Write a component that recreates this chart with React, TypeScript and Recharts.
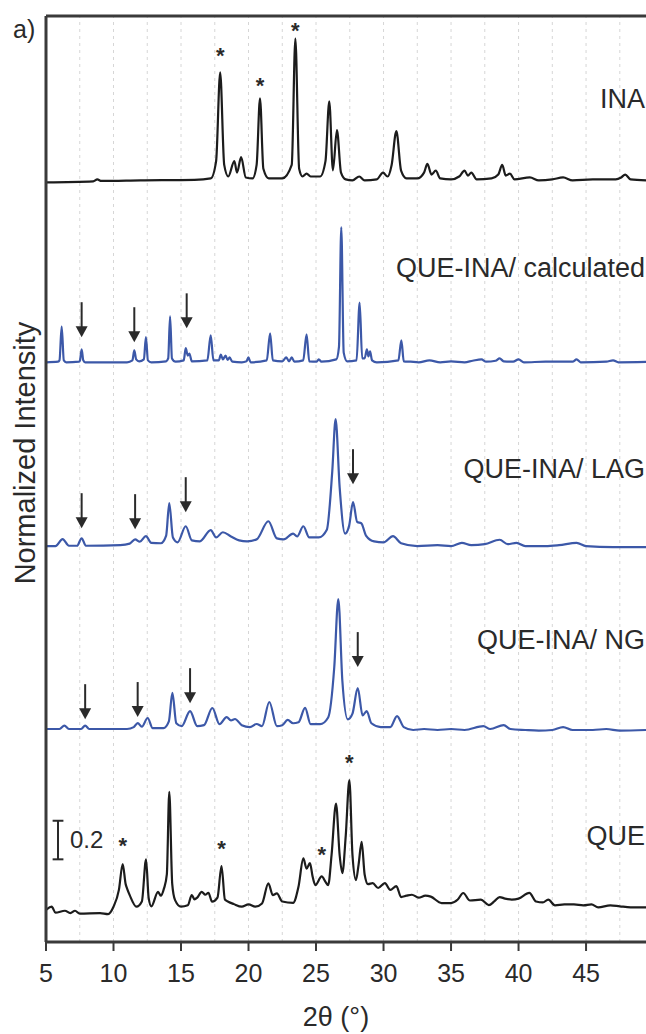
import React from "react";
import { ComposedChart, Line, Scatter, XAxis, YAxis, ReferenceLine, Label } from "recharts";

type Pt = [number, number];

// stacked PXRD patterns, 2θ in degrees, intensity relative to each trace's own baseline
const traceNames = ["INA", "QUE-INA/ calculated", "QUE-INA/ LAG", "QUE-INA/ NG", "QUE"];
const traceOffsets = [3.948, 3.005, 2.057, 1.104, 0.15];
const traceLabelY = [4.373, 3.497, 2.456, 1.57, 0.554];
const traceColors = ["#1c1c1c", "#3c58a8", "#3c58a8", "#3c58a8", "#1c1c1c"];

const ina: Pt[] = [
  [5, -0.01], [8.5, -0.005], [8.8, 0.005], [9.1, -0.003], [12, 0], [16, 0.003], [17.2, 0.01], [17.6, 0.1],
  [17.9, 0.56], [18.2, 0.08], [18.5, 0.02], [18.95, 0.1], [19.15, 0.04], [19.45, 0.12], [19.8, 0.015],
  [20.3, 0.01], [20.6, 0.08], [20.85, 0.425], [21.1, 0.06], [21.5, 0.01], [22.5, 0.01], [23.2, 0.08],
  [23.47, 0.735], [23.75, 0.06], [24.0, 0.02], [24.3, 0.035], [24.6, 0.02], [25.3, 0.02], [25.7, 0.1],
  [25.98, 0.41], [26.25, 0.052], [26.55, 0.26], [26.85, 0.04], [27.2, 0.005], [27.7, 0], [28.2, 0.02],
  [28.6, 0], [29.5, 0.005], [29.96, 0.04], [30.3, 0.02], [30.6, 0.08], [30.95, 0.255], [31.3, 0.05],
  [31.7, 0.01], [32.5, 0.01], [33.0, 0.04], [33.25, 0.085], [33.55, 0.03], [33.87, 0.05], [34.2, 0.01],
  [35.0, 0.005], [35.6, 0.02], [36.0, 0.05], [36.25, 0.025], [36.5, 0.04], [36.9, 0.005], [38.0, 0.01],
  [38.5, 0.03], [38.79, 0.08], [39.05, 0.025], [39.36, 0.035], [39.7, 0.005], [40.84, 0.015], [41.5, 0],
  [42.5, 0.005], [43.3, 0.015], [44.0, 0], [45.5, 0.005], [47.2, 0.005], [47.6, 0.015], [47.9, 0.03],
  [48.3, 0.005], [49.44, 0],
];

const calculated: Pt[] = [
  [5, 0], [5.9, 0.003], [6.0, 0.01], [6.16, 0.185], [6.32, 0.01], [6.5, 0], [7.45, 0.003], [7.52, 0.01],
  [7.64, 0.067], [7.76, 0.01], [7.9, 0], [11.0, 0], [11.4, 0.01], [11.54, 0.062], [11.68, 0.015],
  [11.9, 0.005], [12.25, 0.015], [12.4, 0.13], [12.55, 0.01], [12.8, 0], [13.9, 0.005], [14.05, 0.02],
  [14.19, 0.238], [14.33, 0.02], [14.6, 0.003], [15.2, 0.01], [15.35, 0.073], [15.5, 0.035], [15.62, 0.045],
  [15.8, 0.005], [16.95, 0.01], [17.2, 0.14], [17.4, 0.01], [17.8, 0.01], [17.95, 0.04], [18.1, 0.015],
  [18.3, 0.035], [18.45, 0.012], [18.6, 0.025], [18.8, 0.003], [19.5, 0], [19.85, 0.005], [19.99, 0.026],
  [20.15, 0], [21.35, 0.01], [21.6, 0.15], [21.8, 0.01], [22.5, 0.005], [22.8, 0.025], [23.0, 0.005],
  [23.2, 0.025], [23.4, 0.003], [24.05, 0.01], [24.3, 0.145], [24.5, 0.005], [25.05, 0.003], [25.2, 0.015],
  [25.4, 0.003], [26.5, 0.015], [26.7, 0.08], [26.87, 0.7], [27.05, 0.05], [27.3, 0.005], [28.0, 0.01],
  [28.23, 0.31], [28.42, 0.02], [28.6, 0.02], [28.77, 0.067], [28.88, 0.03], [29.0, 0.057], [29.15, 0.01],
  [29.5, 0], [31.1, 0.01], [31.32, 0.114], [31.5, 0.005], [32, 0.003], [32.6, 0], [33.4, 0.01], [34.2, 0],
  [35.0, 0.005], [36.0, 0], [36.6, 0.008], [37.25, 0.015], [37.6, 0.003], [38.3, 0.008], [38.6, 0.02],
  [38.9, 0.005], [39.6, 0.003], [40.0, 0.015], [40.4, 0], [42.0, 0.003], [44.0, 0.003], [44.3, 0.015],
  [44.6, 0], [46.5, 0.003], [47, 0.01], [47.4, 0], [49.44, 0.002],
];

const lag: Pt[] = [
  [5, -0.005], [5.7, -0.005], [6.23, 0.031], [6.7, -0.003], [7.3, -0.003], [7.64, 0.036], [7.95, -0.003],
  [10.5, 0], [11.2, 0.008], [11.6, 0.03], [11.95, 0.018], [12.4, 0.047], [12.8, 0.012], [13.5, 0.01],
  [13.9, 0.05], [14.13, 0.218], [14.4, 0.04], [14.75, 0.015], [15.35, 0.098], [15.8, 0.025], [16.4, 0.02],
  [17.2, 0.078], [17.6, 0.04], [18.1, 0.067], [18.7, 0.045], [19.3, 0.025], [19.9, 0.02], [20.6, 0.03],
  [21.47, 0.124], [22.1, 0.035], [22.6, 0.03], [23.3, 0.06], [23.6, 0.045], [24.06, 0.098], [24.5, 0.04],
  [25.2, 0.04], [25.8, 0.08], [26.2, 0.38], [26.45, 0.653], [26.75, 0.3], [27.15, 0.06], [27.45, 0.1],
  [27.74, 0.223], [28.05, 0.12], [28.35, 0.114], [28.7, 0.05], [29.3, 0.02], [30.0, 0.015], [30.7, 0.047],
  [31.3, 0.01], [32.5, -0.005], [34.0, 0], [35.0, -0.005], [35.8, 0.012], [36.5, 0], [37.5, 0.005],
  [38.6, 0.028], [39.2, 0.005], [39.85, 0.012], [40.5, -0.005], [42.0, -0.005], [43.0, 0], [44.3, 0.012],
  [45.0, -0.005], [47, -0.01], [49.44, -0.01],
];

const ng: Pt[] = [
  [5, 0], [6.0, 0], [6.36, 0.018], [6.7, 0], [7.6, 0], [7.9, 0.018], [8.2, 0], [11.0, 0], [11.5, 0.01],
  [11.79, 0.031], [12.1, 0.012], [12.53, 0.057], [12.9, 0.005], [13.7, 0.005], [14.1, 0.04], [14.36, 0.187],
  [14.65, 0.03], [15.05, 0.015], [15.67, 0.093], [16.2, 0.015], [16.7, 0.02], [17.32, 0.109], [17.85, 0.025],
  [18.38, 0.062], [18.7, 0.045], [19.0, 0.052], [19.5, 0.02], [20.1, 0.01], [20.6, 0.026], [21.0, 0.015],
  [21.54, 0.14], [22.1, 0.015], [22.5, 0.02], [22.9, 0.047], [23.3, 0.03], [23.7, 0.035], [24.19, 0.11],
  [24.6, 0.025], [25.3, 0.025], [25.9, 0.06], [26.35, 0.32], [26.65, 0.674], [26.95, 0.25], [27.35, 0.05],
  [27.7, 0.08], [28.09, 0.212], [28.45, 0.07], [28.75, 0.093], [29.1, 0.03], [29.8, 0.01], [30.5, 0.01],
  [31.0, 0.067], [31.5, 0.01], [32.2, -0.005], [33.0, 0], [34.0, -0.005], [35.0, 0], [36.0, -0.005],
  [37.4, 0.015], [37.9, 0], [38.9, 0.02], [39.4, 0], [40.5, -0.005], [41.5, -0.008], [42.5, -0.005],
  [43.3, 0.01], [44.0, -0.005], [45.5, -0.005], [46.5, 0], [47.5, -0.008], [49.44, -0.005],
];

const que: Pt[] = [
  [5.0, 0.016], [5.42, 0.033], [5.7, 0.002], [6.4, 0.012], [6.8, 0], [7.15, 0.012], [7.5, -0.003], [9.0, 0],
  [9.6, -0.005], [10.0, 0.033], [10.4, 0.12], [10.68, 0.254], [10.9, 0.15], [11.0, 0.128], [11.2, 0.093],
  [11.7, 0.033], [12.1, 0.06], [12.41, 0.278], [12.6, 0.08], [12.8, 0.035], [13.3, 0.11], [13.5, 0.09],
  [13.74, 0.128], [13.95, 0.2], [14.13, 0.628], [14.35, 0.15], [14.56, 0.067], [15.0, 0.033], [15.5, 0.04],
  [15.8, 0.093], [16.0, 0.071], [16.2, 0.08], [16.53, 0.11], [16.8, 0.095], [17.03, 0.105], [17.3, 0.059],
  [17.7, 0.08], [18.0, 0.244], [18.25, 0.07], [18.5, 0.059], [18.9, 0.047], [19.5, 0.033], [20.0, 0.045],
  [20.5, 0.033], [21.0, 0.05], [21.47, 0.154], [21.8, 0.093], [22.1, 0.102], [22.5, 0.06], [23.3, 0.053],
  [23.7, 0.136], [24.06, 0.283], [24.3, 0.23], [24.55, 0.259], [24.75, 0.188], [24.95, 0.145], [25.42, 0.19],
  [25.7, 0.162], [25.9, 0.145], [26.15, 0.3], [26.48, 0.568], [26.75, 0.3], [26.95, 0.207], [27.2, 0.4],
  [27.47, 0.689], [27.7, 0.3], [27.96, 0.171], [28.15, 0.25], [28.38, 0.369], [28.6, 0.2], [28.85, 0.15],
  [29.2, 0.155], [29.6, 0.13], [30.1, 0.155], [30.5, 0.12], [30.95, 0.14], [31.3, 0.083], [31.7, 0.09],
  [32.1, 0.095], [32.6, 0.08], [33.1, 0.09], [33.5, 0.085], [34.3, 0.052], [35.0, 0.052], [35.5, 0.07],
  [35.9, 0.104], [36.4, 0.065], [37.2, 0.07], [37.8, 0.041], [38.2, 0.06], [38.6, 0.083], [39.0, 0.075],
  [39.5, 0.07], [40.0, 0.075], [40.8, 0.105], [41.3, 0.06], [41.8, 0.055], [42.2, 0.07], [42.7, 0.04],
  [43.4, 0.045], [44.1, 0.045], [44.8, 0.04], [45.4, 0.045], [45.9, 0.03], [46.8, 0.04], [47.5, 0.035],
  [48.3, 0.03], [49.44, 0.03],
];

const traces = [ina, calculated, lag, ng, que];

// annotation marks (absolute chart units)
const stars: Pt[] = [
  [17.9, 4.617], [20.85, 4.463], [23.47, 4.746],
  [10.68, 0.523], [18.0, 0.508], [25.42, 0.479], [27.47, 0.953],
];
const arrowTips: Pt[] = [
  [7.64, 3.135], [11.54, 3.109], [15.42, 3.181],
  [7.64, 2.145], [11.6, 2.14], [15.35, 2.228], [27.74, 2.373],
  [7.9, 1.155], [11.79, 1.166], [15.67, 1.238], [28.09, 1.425],
];

const xTicks = [5, 10, 15, 20, 25, 30, 35, 40, 45];
const gridX = [7.5, 10, 12.5, 15, 17.5, 20, 22.5, 25, 27.5, 30, 32.5, 35, 37.5, 40, 42.5, 45, 47.5];
const xMin = 5;
const xMax = 49.44;
const yMax = 4.8;
const scaleBarX = 5.89;
const scaleBarFrom = 0.4285;
const scaleBarSize = 0.2;

const FONT = "'Liberation Sans', Arial, sans-serif";
const INK = "#2a2a2a";

const toRows = (pts: Pt[], offset = 0) => pts.map(([x, y]) => ({ x, y: y + offset }));

const labelRows = traceNames.map((name, i) => ({ x: xMax, y: traceLabelY[i], name }));

const StarShape = (p: any) => (
  <text x={p.cx} y={p.cy + 12} textAnchor="middle" fontSize={22} fontWeight="bold" fontFamily={FONT} fill={INK}>*</text>
);

const ArrowShape = (p: any) => (
  <g>
    <line x1={p.cx} y1={p.cy - 35} x2={p.cx} y2={p.cy - 9} stroke={INK} strokeWidth={2} />
    <path d={`M${p.cx - 6},${p.cy - 11} L${p.cx + 6},${p.cy - 11} L${p.cx},${p.cy} Z`} fill={INK} />
  </g>
);

const NameShape = (p: any) => (
  <text x={p.cx - 1} y={p.cy} dy="0.35em" textAnchor="end" fontSize={27} fontFamily={FONT} fill={INK}>
    {p.payload.name}
  </text>
);

const ScaleText = (p: any) => (
  <text x={p.cx + 12} y={p.cy} dy="0.35em" fontSize={24} fontFamily={FONT} fill={INK}>0.2</text>
);

const XTitle = (p: any) => {
  const vb = p.viewBox;
  return (
    <text x={vb.x + vb.width / 2 - 10} y={vb.y + 84} textAnchor="middle" fontSize={27} fontFamily={FONT} fill={INK}>
      2θ (°)
    </text>
  );
};

const YTitle = (p: any) => {
  const vb = p.viewBox;
  const cx = vb.x + 25;
  const cy = vb.y + vb.height / 2 - 26;
  return (
    <text x={cx} y={cy} dy="0.35em" transform={`rotate(-90 ${cx} ${cy})`} textAnchor="middle" fontSize={29} fontFamily={FONT} fill={INK}>
      Normalized Intensity
    </text>
  );
};

export default function App() {
  return (
    <div style={{ position: "absolute", left: 0, top: 0, width: 646, height: 1034, background: "#fff" }}>
      <div style={{ position: "absolute", left: 13, top: 14, fontFamily: FONT, fontSize: 25, color: INK, lineHeight: "30px" }}>a)</div>
      <ComposedChart width={646} height={1034} margin={{ top: 16, right: 0, bottom: 0, left: 0 }}>
        {gridX.map((g) => (
          <ReferenceLine key={g} x={g} stroke="#d6d6d6" strokeDasharray="3 4" strokeWidth={1} />
        ))}
        <XAxis
          dataKey="x"
          type="number"
          domain={[xMin, xMax]}
          allowDataOverflow
          ticks={xTicks}
          height={92}
          tickSize={9}
          tickMargin={13}
          tick={{ fontSize: 25, fill: INK, fontFamily: FONT }}
          axisLine={{ stroke: "#3a3a3a", strokeWidth: 3 }}
          tickLine={{ stroke: "#3a3a3a", strokeWidth: 2 }}
        >
          <Label content={XTitle} />
        </XAxis>
        <YAxis
          type="number"
          domain={[0, yMax]}
          allowDataOverflow
          width={46}
          tick={false}
          tickLine={false}
          axisLine={{ stroke: "#3a3a3a", strokeWidth: 3 }}
        >
          <Label content={YTitle} />
        </YAxis>
        <ReferenceLine y={yMax} stroke="#3a3a3a" strokeWidth={3} />
        {traces.map((t, i) => (
          <Line
            key={traceNames[i]}
            data={toRows(t, traceOffsets[i])}
            dataKey="y"
            type="monotone"
            stroke={traceColors[i]}
            strokeWidth={2.2}
            dot={false}
            activeDot={false}
            isAnimationActive={false}
          />
        ))}
        <ReferenceLine segment={[{ x: scaleBarX, y: scaleBarFrom }, { x: scaleBarX, y: scaleBarFrom + scaleBarSize }]} stroke={INK} strokeWidth={2} />
        <ReferenceLine segment={[{ x: scaleBarX - 0.4, y: scaleBarFrom }, { x: scaleBarX + 0.4, y: scaleBarFrom }]} stroke={INK} strokeWidth={2} />
        <ReferenceLine segment={[{ x: scaleBarX - 0.4, y: scaleBarFrom + scaleBarSize }, { x: scaleBarX + 0.4, y: scaleBarFrom + scaleBarSize }]} stroke={INK} strokeWidth={2} />
        <Scatter data={[{ x: scaleBarX, y: scaleBarFrom + scaleBarSize / 2 }]} dataKey="y" shape={ScaleText} isAnimationActive={false} />
        <Scatter data={toRows(stars)} dataKey="y" shape={StarShape} isAnimationActive={false} />
        <Scatter data={toRows(arrowTips)} dataKey="y" shape={ArrowShape} isAnimationActive={false} />
        <Scatter data={labelRows} dataKey="y" shape={NameShape} isAnimationActive={false} />
      </ComposedChart>
    </div>
  );
}
